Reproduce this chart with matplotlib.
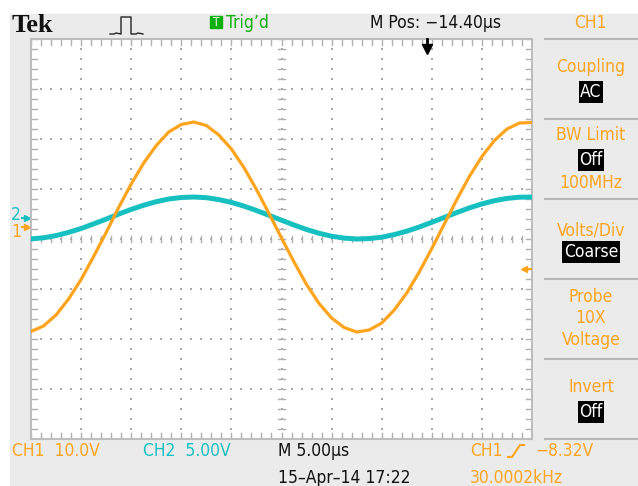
import matplotlib
matplotlib.use("Agg")
import numpy as np
import matplotlib.pyplot as plt
from matplotlib import font_manager
from matplotlib.patches import Rectangle

# time across the screen (us from left edge), sampled every 1/4 division
t_us = [0, 1.25, 2.5, 3.75, 5, 6.25, 7.5, 8.75, 10, 11.25, 12.5, 13.75, 15,
        16.25, 17.5, 18.75, 20, 21.25, 22.5, 23.75, 25, 26.25, 27.5, 28.75,
        30, 31.25, 32.5, 33.75, 35, 36.25, 37.5, 38.75, 40, 41.25, 42.5,
        43.75, 45, 46.25, 47.5, 48.75, 50]

# CH1 (orange) volts
ch1_v = [-20.9, -19.8, -17.6, -14.4, -10.5, -5.9, -1.1, 3.9, 8.6, 12.8, 16.3,
         19.0, 20.5, 21.0, 20.3, 18.4, 15.6, 11.9, 7.5, 2.7, -2.2, -7.0,
         -11.5, -15.3, -18.2, -20.1, -21.0, -20.6, -19.2, -16.6, -13.2, -9.0,
         -4.3, 0.6, 5.5, 10.1, 14.1, 17.3, 19.6, 20.8, 20.9]

# CH2 (cyan) volts
ch2_v = [-2.09, -1.98, -1.76, -1.44, -1.05, -0.59, -0.11, 0.39, 0.86, 1.28,
         1.63, 1.90, 2.05, 2.10, 2.03, 1.84, 1.56, 1.19, 0.75, 0.27, -0.22,
         -0.70, -1.15, -1.53, -1.82, -2.01, -2.10, -2.06, -1.92, -1.66, -1.32,
         -0.90, -0.43, 0.06, 0.55, 1.01, 1.41, 1.73, 1.96, 2.08, 2.09]

ch1_scale = 10.0   # V/div
ch2_scale = 5.0    # V/div
ch1_offset = 0.24  # ground marker position, div
ch2_offset = 0.42
trig_level = -8.32  # V
trig_pos = 39.5     # us from left edge

menu_items = [("Coupling", "AC"), ("BW Limit", "Off"), ("Volts/Div", "Coarse"),
              ("Probe\n10X\nVoltage", None), ("Invert", "Off")]

ORANGE = "#ffa41c"
CYAN = "#17c0c0"
GREEN = "#0cb00c"
GRAY_BG = "#ebebeb"


def pick_font():
    # a narrow sans looks closest to the scope's screen font
    for f in font_manager.fontManager.ttflist:
        if f.name == "Liberation Sans Narrow" and f.style == "normal" and f.weight in (400, "normal", "regular"):
            return font_manager.FontProperties(fname=f.fname), 14
    for f in font_manager.fontManager.ttflist:
        if f.name == "DejaVu Sans" and f.stretch == "condensed" and f.style == "normal" and f.weight in (400, "normal"):
            return font_manager.FontProperties(fname=f.fname), 12.5
    return font_manager.FontProperties(family="DejaVu Sans"), 11.5


fp, fs = pick_font()

W, H = 638, 486
fig = plt.figure(figsize=(W / 100, H / 100), dpi=100)

# background / frame axes in pixel coordinates
bg = fig.add_axes([0, 0, 1, 1])
bg.set_xlim(0, W)
bg.set_ylim(H, 0)
bg.axis("off")
bg.add_patch(Rectangle((10, 14), W - 10, H - 14, color=GRAY_BG, zorder=0))

# top bar
bg.text(12, 26, "Tek", family="Liberation Serif", weight="bold", fontsize=19,
        ha="left", va="center", color="#111111")
bg.plot([110, 114, 116, 121, 121, 131, 131, 136, 138, 143],
        [34, 34, 33, 34, 17, 17, 34, 34, 33, 34], color="#222222", lw=1)
bg.add_patch(Rectangle((210, 16), 12, 12, color=GREEN, zorder=2))
bg.text(216, 22.5, "T", fontproperties=fp, fontsize=fs - 4, color="white",
        ha="center", va="center", weight="bold", zorder=3)
bg.text(226, 23, "Trig\u2019d", fontproperties=fp, fontsize=fs, color=GREEN,
        ha="left", va="center")
bg.text(370, 23, "M Pos: \u221214.40\u00b5s", fontproperties=fp, fontsize=fs,
        color="#111111", ha="left", va="center")
bg.text(590, 23, "CH1", fontproperties=fp, fontsize=fs, color=ORANGE,
        ha="center", va="center")

# right hand menu
for yy in [39, 119, 199, 279, 359, 439]:
    bg.plot([545, 638], [yy, yy], color="#b8b8b8", lw=1.5)
label_y = [67, 135, 230, 318, 387]
box_y = [92, 160, 252, None, 412]
for (lab, val), ly, by in zip(menu_items, label_y, box_y):
    bg.text(591, ly, lab, fontproperties=fp, fontsize=fs, color=ORANGE,
            ha="center", va="center", linespacing=1.25)
    if val is not None:
        bg.text(591, by, val, fontproperties=fp, fontsize=fs, color="white",
                ha="center", va="center",
                bbox=dict(facecolor="black", edgecolor="none", pad=1.2))
bg.text(591, 183, "100MHz", fontproperties=fp, fontsize=fs, color=ORANGE,
        ha="center", va="center")

# bottom readouts
bg.text(12, 451, "CH1  10.0V", fontproperties=fp, fontsize=fs, color=ORANGE,
        ha="left", va="center")
bg.text(143, 451, "CH2  5.00V", fontproperties=fp, fontsize=fs, color=CYAN,
        ha="left", va="center")
bg.text(278, 451, "M 5.00\u00b5s", fontproperties=fp, fontsize=fs,
        color="#111111", ha="left", va="center")
bg.text(278, 478, "15\u2013Apr\u201314 17:22", fontproperties=fp, fontsize=fs,
        color="#111111", ha="left", va="center")
bg.text(470, 451, "CH1", fontproperties=fp, fontsize=fs, color=ORANGE,
        ha="left", va="center")
bg.plot([508, 512, 520, 524], [457, 457, 445, 445], color=ORANGE, lw=1.5)
bg.text(535, 451, "\u22128.32V", fontproperties=fp, fontsize=fs, color=ORANGE,
        ha="left", va="center")
bg.text(470, 478, "30.0002kHz", fontproperties=fp, fontsize=fs, color=ORANGE,
        ha="left", va="center")

# the graticule
ax = fig.add_axes([31 / W, (H - 439) / H, 501 / W, 400 / H])
ax.set_xlim(0, 50)
ax.set_ylim(-4, 4)
ax.set_facecolor("white")
ax.set_xticks([])
ax.set_yticks([])
for s in ax.spines.values():
    s.set_color("#bdbdbd")
    s.set_linewidth(1.5)

dot_col = "#a8a8a8"
minor_x = np.arange(0, 50.01, 1.0)
minor_y = np.arange(-4, 4.01, 0.2)
for gx in range(5, 50, 5):
    ax.scatter(np.full(len(minor_y), gx), minor_y, s=1.2, color=dot_col,
               marker="s", lw=0)
for gy in range(-3, 4):
    ax.scatter(minor_x, np.full(len(minor_x), gy), s=1.2, color=dot_col,
               marker="s", lw=0)
# tick marks on the edges and the centre lines
tk = dict(color="#b0b0b0", lw=1)
for x in minor_x:
    ax.plot([x, x], [4, 3.88], **tk)
    ax.plot([x, x], [-4, -3.88], **tk)
    ax.plot([x, x], [-0.06, 0.06], **tk)
for y in minor_y:
    ax.plot([0, 0.6], [y, y], **tk)
    ax.plot([49.4, 50], [y, y], **tk)
    ax.plot([24.7, 25.3], [y, y], **tk)

# waveforms
t = np.array(t_us)
y1 = np.array(ch1_v) / ch1_scale + ch1_offset
y2 = np.array(ch2_v) / ch2_scale + ch2_offset
ax.plot(t, y2, color=CYAN, lw=3.6, solid_joinstyle="round", zorder=5)
ax.plot(t, y1, color=ORANGE, lw=2.3, solid_joinstyle="round", zorder=6)

# markers: trigger position, trigger level, channel grounds
ax.plot([trig_pos, trig_pos], [4.0, 3.84], color="black", lw=2, clip_on=False, zorder=7)
ax.plot([trig_pos], [3.8], marker="v", ms=7, color="black", clip_on=False, zorder=7)
lvl = trig_level / ch1_scale + ch1_offset
ax.plot([49.2, 50], [lvl, lvl], color=ORANGE, lw=1.5, zorder=7)
ax.plot([49.2], [lvl], marker="<", ms=5, color=ORANGE, zorder=7)
ax.text(-1.5, ch2_offset + 0.05, "2", fontproperties=fp, fontsize=fs,
        color=CYAN, ha="center", va="center", clip_on=False)
ax.plot([-0.35], [ch2_offset], marker=">", ms=5, color=CYAN, clip_on=False)
ax.plot([-0.9, -0.35], [ch2_offset, ch2_offset], color=CYAN, lw=1.5, clip_on=False)
ax.text(-1.5, ch1_offset - 0.1, "1", fontproperties=fp, fontsize=fs,
        color=ORANGE, ha="center", va="center", clip_on=False)
ax.plot([-0.35], [ch1_offset], marker=">", ms=5, color=ORANGE, clip_on=False)
ax.plot([-0.9, -0.35], [ch1_offset, ch1_offset], color=ORANGE, lw=1.5, clip_on=False)

fig.savefig("out.png", dpi=100)
